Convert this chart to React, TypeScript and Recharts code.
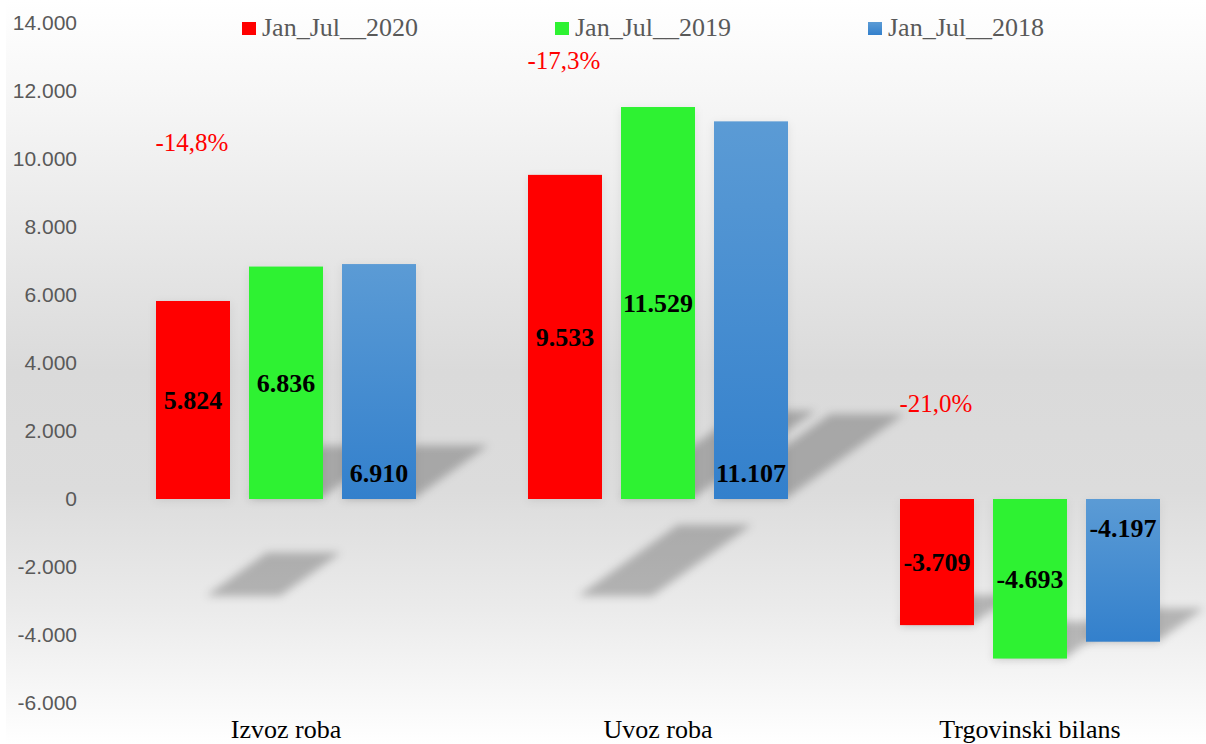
import React from 'react';
import { BarChart, Bar, XAxis, YAxis, Legend, LabelList, ReferenceDot } from 'recharts';

const categories = ['Izvoz roba', 'Uvoz roba', 'Trgovinski bilans'];
const values2020 = [5824, 9533, -3709];
const values2019 = [6836, 11529, -4693];
const values2018 = [6910, 11107, -4197];
const yTicks = [-6000, -4000, -2000, 0, 2000, 4000, 6000, 8000, 10000, 12000, 14000];

// change 2020 vs 2019, and the value height where each note sits
const changeLabels = ['-14,8%', '-17,3%', '-21,0%'];
const changeAt = [10500, 12900, 2800];

const series = [
  { key: 'y2020', name: 'Jan_Jul__2020', fill: '#FF0000', swatch: '#FF0000' },
  { key: 'y2019', name: 'Jan_Jul__2019', fill: '#2EF232', swatch: '#2EF232' },
  { key: 'y2018', name: 'Jan_Jul__2018', fill: 'url(#blueGrad)', swatch: 'linear-gradient(#5B9BD5, #3380CC)' },
];

const data = categories.map((name, i) => ({
  name,
  y2020: values2020[i],
  y2019: values2019[i],
  y2018: values2018[i],
}));

const SERIF = '"Liberation Serif", "Times New Roman", serif';
const BAR_SIZE = 74;
const BAR_GAP = 19;

// 14000 -> "14.000"
const fmt = (v: number) => {
  const s = Math.abs(v).toString().replace(/\B(?=(\d{3})+(?!\d))/g, '.');
  return (v < 0 ? '-' : '') + s;
};

// bar with the skewed "perspective" shadow from the original chart
const shadowBar = (shift: boolean) => (p: any) => {
  const x = Number(p.x);
  const w = Number(p.width);
  const top = Math.min(Number(p.y), Number(p.y) + Number(p.height));
  const h = Math.abs(Number(p.height));
  const sh = h * 0.22;
  const dx = sh * 1.4;
  // the first series' shadow is thrown away from positive bars
  const ox = shift && p.value >= 0 ? 50 : 0;
  const oy = shift && p.value >= 0 ? 97 : -2;
  const b = top + h + oy;
  const x0 = x + ox;
  const d = `M${x0},${b} L${x0 + w},${b} L${x0 + w + dx},${b - sh} L${x0 + dx},${b - sh} Z`;
  return (
    <g>
      <path d={d} fill="#000" fillOpacity={0.24} filter="url(#shBlur)" />
      <rect x={x} y={top + 2} width={w} height={h} fill="#000" fillOpacity={0.08} filter="url(#shBlur)" />
      <rect x={x} y={top} width={w} height={h} fill={p.fill} />
    </g>
  );
};

const centerLabel = (props: any) => {
  const { x, y, width, height, value } = props;
  const cy = Number(y) + Number(height) / 2;
  return (
    <text x={Number(x) + Number(width) / 2} y={cy + 9} textAnchor="middle"
      fontFamily={SERIF} fontSize={26} fontWeight="bold" fill="#000">
      {fmt(value)}
    </text>
  );
};

// blue labels sit next to the zero line instead of the middle
const baseLabel = (props: any) => {
  const { x, y, width, height, value } = props;
  const top = Math.min(Number(y), Number(y) + Number(height));
  const bottom = Math.max(Number(y), Number(y) + Number(height));
  const cy = value >= 0 ? bottom - 26.5 : top + 28.5;
  return (
    <text x={Number(x) + Number(width) / 2} y={cy + 9} textAnchor="middle"
      fontFamily={SERIF} fontSize={26} fontWeight="bold" fill="#000">
      {fmt(value)}
    </text>
  );
};

const renderLegend = () => (
  <div style={{ display: 'flex' }}>
    {series.map((s) => (
      <div key={s.key} style={{ display: 'flex', alignItems: 'center', width: 313 }}>
        <div style={{ width: 14, height: 13, background: s.swatch, marginRight: 6 }} />
        <span style={{ fontFamily: SERIF, fontSize: 26, lineHeight: '26px', color: '#595959' }}>{s.name}</span>
      </div>
    ))}
  </div>
);

export default function App() {
  return (
    <div style={{ position: 'absolute', left: 0, top: 0, width: 1206, height: 744, overflow: 'hidden', background: '#fff' }}>
      <div
        style={{
          position: 'absolute', left: 6, top: 0, width: 1200, height: 744,
          background: 'linear-gradient(#ffffff 0%, #f7f7f7 12%, #ebebeb 28%, #dadada 50%, #dcdcdc 66%, #ebebeb 82%, #ffffff 100%)',
        }}
      />
      <div style={{ position: 'absolute', left: 0, top: 0 }}>
        <BarChart width={1230} height={744} data={data}
          margin={{ top: 23, right: 14, left: 0, bottom: 0 }}
          barSize={BAR_SIZE} barGap={BAR_GAP}>
          <defs>
            <linearGradient id="blueGrad" x1="0" y1="0" x2="0" y2="1">
              <stop offset="0%" stopColor="#5B9BD5" />
              <stop offset="100%" stopColor="#3380CC" />
            </linearGradient>
            <filter id="shBlur" x="-50%" y="-50%" width="200%" height="200%">
              <feGaussianBlur stdDeviation="4.5" />
            </filter>
          </defs>
          <XAxis dataKey="name" axisLine={false} tickLine={false} tickSize={0} tickMargin={17} height={41}
            tick={{ fontFamily: SERIF, fontSize: 26, fill: '#000' }} interval={0} />
          <YAxis domain={[-6000, 14000]} ticks={yTicks} tickFormatter={fmt} axisLine={false} tickLine={false}
            tickSize={0} tickMargin={23} width={100}
            tick={{ fontFamily: '"Liberation Sans", Arial, sans-serif', fontSize: 21, fill: '#595959' }} />
          <Legend layout="horizontal" verticalAlign="middle" align="center" content={renderLegend}
            wrapperStyle={{ top: 15, left: 242, width: 960, height: 30 }} />
          <Bar dataKey="y2020" name={series[0].name} fill={series[0].fill} shape={shadowBar(true)} isAnimationActive={false}>
            <LabelList dataKey="y2020" content={centerLabel} />
          </Bar>
          <Bar dataKey="y2019" name={series[1].name} fill={series[1].fill} shape={shadowBar(false)} isAnimationActive={false}>
            <LabelList dataKey="y2019" content={centerLabel} />
          </Bar>
          <Bar dataKey="y2018" name={series[2].name} fill={series[2].fill} shape={shadowBar(false)} isAnimationActive={false}>
            <LabelList dataKey="y2018" content={baseLabel} />
          </Bar>
          {categories.map((c, i) => (
            <ReferenceDot key={c} x={c} y={changeAt[i]} r={0} ifOverflow="visible"
              shape={(p: any) => (
                <text x={p.cx - (BAR_SIZE + BAR_GAP) - 1} y={p.cy + 8.5} textAnchor="middle"
                  fontFamily={SERIF} fontSize={25} fill="#FF0000">
                  {changeLabels[i]}
                </text>
              )} />
          ))}
        </BarChart>
      </div>
    </div>
  );
}
